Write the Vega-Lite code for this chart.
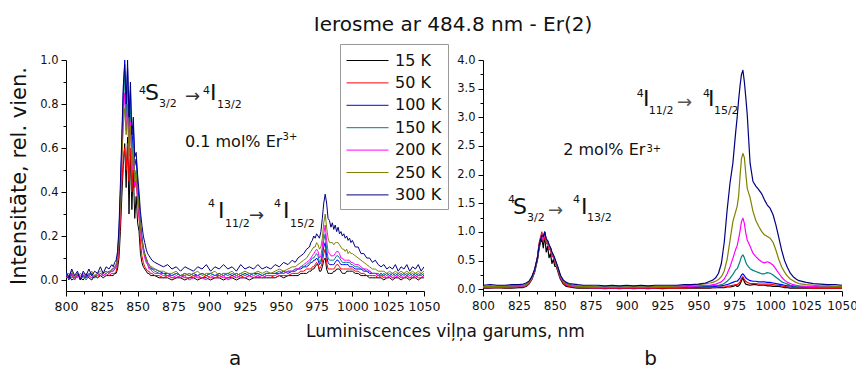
{
"$schema": "https://vega.github.io/schema/vega-lite/v6.json",
"padding": {"left": 8, "top": 14, "right": 5, "bottom": 5},
"config": {"font": "DejaVu Sans", "view": {"stroke": null}, "axis": {"grid": false, "domainColor": "#000", "tickColor": "#000", "labelColor": "#111", "titleColor": "#111", "labelFont": "DejaVu Sans", "titleFont": "DejaVu Sans", "titleFontWeight": "normal", "labelOverlap": false, "labelFlush": false, "labelBound": false}},
"title": {"text": "Ierosme ar 484.8 nm - Er(2)", "fontSize": 20, "fontWeight": "normal", "font": "DejaVu Sans", "color": "#111", "anchor": "middle", "offset": 9, "dx": 20},
"bounds": "flush",
"spacing": 59,
"resolve": {"scale": {"color": "independent", "strokeWidth": "independent", "x": "independent", "y": "independent"}, "legend": {"color": "independent", "strokeWidth": "independent"}},
"datasets": {
"left": [
{"x":800,"15 K":0.01,"50 K":0.02,"100 K":0.03,"150 K":0.02,"200 K":0.01,"250 K":0.03,"300 K":0.04},
{"x":802,"15 K":0.02,"50 K":0.01,"100 K":0.00,"150 K":0.03,"200 K":0.02,"250 K":0.02,"300 K":0.01},
{"x":804,"15 K":0.00,"50 K":0.02,"100 K":0.03,"150 K":0.01,"200 K":0.03,"250 K":0.04,"300 K":0.05},
{"x":806,"15 K":0.01,"50 K":0.00,"100 K":0.01,"150 K":0.02,"200 K":0.00,"250 K":0.01,"300 K":0.02},
{"x":808,"15 K":0.02,"50 K":0.02,"100 K":0.03,"150 K":0.01,"200 K":0.02,"250 K":0.03,"300 K":0.04},
{"x":810,"15 K":0.01,"50 K":0.01,"100 K":0.00,"150 K":0.03,"200 K":0.01,"250 K":0.02,"300 K":0.00},
{"x":812,"15 K":0.00,"50 K":0.02,"100 K":0.02,"150 K":0.02,"200 K":0.03,"250 K":0.01,"300 K":0.04},
{"x":814,"15 K":0.02,"50 K":0.01,"100 K":0.01,"150 K":0.00,"200 K":0.01,"250 K":0.03,"300 K":0.02},
{"x":816,"15 K":0.01,"50 K":0.02,"100 K":0.03,"150 K":0.02,"200 K":0.02,"250 K":0.02,"300 K":0.05},
{"x":818,"15 K":0.00,"50 K":0.01,"100 K":0.02,"150 K":0.03,"200 K":0.01,"250 K":0.04,"300 K":0.02},
{"x":820,"15 K":0.02,"50 K":0.02,"100 K":0.01,"150 K":0.01,"200 K":0.02,"250 K":0.02,"300 K":0.04},
{"x":822,"15 K":0.01,"50 K":0.01,"100 K":0.03,"150 K":0.02,"200 K":0.03,"250 K":0.03,"300 K":0.03},
{"x":824,"15 K":0.02,"50 K":0.03,"100 K":0.02,"150 K":0.03,"200 K":0.02,"250 K":0.04,"300 K":0.06},
{"x":826,"15 K":0.01,"50 K":0.02,"100 K":0.03,"150 K":0.02,"200 K":0.03,"250 K":0.03,"300 K":0.03},
{"x":828,"15 K":0.02,"50 K":0.03,"100 K":0.04,"150 K":0.03,"200 K":0.02,"250 K":0.04,"300 K":0.06},
{"x":830,"15 K":0.02,"50 K":0.02,"100 K":0.03,"150 K":0.04,"200 K":0.03,"250 K":0.03,"300 K":0.05},
{"x":832,"15 K":0.02,"50 K":0.03,"100 K":0.05,"150 K":0.04,"200 K":0.04,"250 K":0.05,"300 K":0.07},
{"x":833,"15 K":0.02,"50 K":0.03,"100 K":0.05,"150 K":0.04,"200 K":0.04,"250 K":0.05,"300 K":0.06},
{"x":834,"15 K":0.03,"50 K":0.03,"100 K":0.06,"150 K":0.05,"200 K":0.05,"250 K":0.06,"300 K":0.08},
{"x":835,"15 K":0.03,"50 K":0.04,"100 K":0.07,"150 K":0.06,"200 K":0.06,"250 K":0.07,"300 K":0.09},
{"x":836,"15 K":0.05,"50 K":0.07,"100 K":0.11,"150 K":0.10,"200 K":0.09,"250 K":0.10,"300 K":0.13},
{"x":837,"15 K":0.10,"50 K":0.14,"100 K":0.22,"150 K":0.20,"200 K":0.18,"250 K":0.19,"300 K":0.24},
{"x":838,"15 K":0.22,"50 K":0.28,"100 K":0.40,"150 K":0.37,"200 K":0.34,"250 K":0.35,"300 K":0.44},
{"x":839,"15 K":0.38,"50 K":0.44,"100 K":0.62,"150 K":0.58,"200 K":0.55,"250 K":0.55,"300 K":0.66},
{"x":840,"15 K":0.52,"50 K":0.55,"100 K":0.85,"150 K":0.80,"200 K":0.74,"250 K":0.70,"300 K":0.88},
{"x":841,"15 K":0.62,"50 K":0.60,"100 K":1.00,"150 K":0.93,"200 K":0.85,"250 K":0.78,"300 K":0.98},
{"x":842,"15 K":0.42,"50 K":0.50,"100 K":0.78,"150 K":0.74,"200 K":0.68,"250 K":0.66,"300 K":0.80},
{"x":843,"15 K":0.65,"50 K":0.62,"100 K":0.96,"150 K":0.88,"200 K":0.80,"250 K":0.76,"300 K":1.00},
{"x":844,"15 K":0.30,"50 K":0.45,"100 K":0.70,"150 K":0.62,"200 K":0.56,"250 K":0.56,"300 K":0.74},
{"x":845,"15 K":0.58,"50 K":0.60,"100 K":0.86,"150 K":0.78,"200 K":0.72,"250 K":0.70,"300 K":0.90},
{"x":846,"15 K":0.32,"50 K":0.40,"100 K":0.60,"150 K":0.55,"200 K":0.50,"250 K":0.52,"300 K":0.66},
{"x":847,"15 K":0.50,"50 K":0.55,"100 K":0.70,"150 K":0.63,"200 K":0.58,"250 K":0.60,"300 K":0.74},
{"x":848,"15 K":0.28,"50 K":0.42,"100 K":0.52,"150 K":0.46,"200 K":0.43,"250 K":0.45,"300 K":0.56},
{"x":849,"15 K":0.38,"50 K":0.45,"100 K":0.55,"150 K":0.50,"200 K":0.46,"250 K":0.48,"300 K":0.58},
{"x":850,"15 K":0.26,"50 K":0.36,"100 K":0.44,"150 K":0.40,"200 K":0.37,"250 K":0.39,"300 K":0.48},
{"x":851,"15 K":0.22,"50 K":0.28,"100 K":0.36,"150 K":0.33,"200 K":0.30,"250 K":0.32,"300 K":0.40},
{"x":852,"15 K":0.12,"50 K":0.17,"100 K":0.26,"150 K":0.24,"200 K":0.22,"250 K":0.24,"300 K":0.31},
{"x":853,"15 K":0.08,"50 K":0.11,"100 K":0.20,"150 K":0.18,"200 K":0.17,"250 K":0.18,"300 K":0.25},
{"x":854,"15 K":0.06,"50 K":0.08,"100 K":0.15,"150 K":0.14,"200 K":0.13,"250 K":0.14,"300 K":0.20},
{"x":855,"15 K":0.05,"50 K":0.06,"100 K":0.12,"150 K":0.11,"200 K":0.10,"250 K":0.11,"300 K":0.17},
{"x":856,"15 K":0.04,"50 K":0.05,"100 K":0.10,"150 K":0.09,"200 K":0.08,"250 K":0.10,"300 K":0.14},
{"x":857,"15 K":0.03,"50 K":0.04,"100 K":0.08,"150 K":0.07,"200 K":0.07,"250 K":0.08,"300 K":0.12},
{"x":858,"15 K":0.03,"50 K":0.04,"100 K":0.07,"150 K":0.06,"200 K":0.05,"250 K":0.07,"300 K":0.11},
{"x":859,"15 K":0.02,"50 K":0.03,"100 K":0.06,"150 K":0.05,"200 K":0.05,"250 K":0.06,"300 K":0.10},
{"x":860,"15 K":0.02,"50 K":0.03,"100 K":0.05,"150 K":0.05,"200 K":0.04,"250 K":0.06,"300 K":0.09},
{"x":862,"15 K":0.02,"50 K":0.02,"100 K":0.05,"150 K":0.04,"200 K":0.03,"250 K":0.05,"300 K":0.08},
{"x":865,"15 K":0.01,"50 K":0.02,"100 K":0.04,"150 K":0.03,"200 K":0.03,"250 K":0.04,"300 K":0.07},
{"x":868,"15 K":0.01,"50 K":0.01,"100 K":0.03,"150 K":0.03,"200 K":0.02,"250 K":0.04,"300 K":0.06},
{"x":871,"15 K":0.01,"50 K":0.02,"100 K":0.03,"150 K":0.02,"200 K":0.02,"250 K":0.03,"300 K":0.07},
{"x":874,"15 K":0.00,"50 K":0.01,"100 K":0.02,"150 K":0.02,"200 K":0.01,"250 K":0.03,"300 K":0.05},
{"x":877,"15 K":0.01,"50 K":0.01,"100 K":0.03,"150 K":0.03,"200 K":0.02,"250 K":0.04,"300 K":0.06},
{"x":880,"15 K":0.01,"50 K":0.02,"100 K":0.02,"150 K":0.02,"200 K":0.01,"250 K":0.02,"300 K":0.04},
{"x":883,"15 K":0.00,"50 K":0.01,"100 K":0.03,"150 K":0.02,"200 K":0.02,"250 K":0.03,"300 K":0.06},
{"x":886,"15 K":0.01,"50 K":0.01,"100 K":0.02,"150 K":0.03,"200 K":0.00,"250 K":0.02,"300 K":0.05},
{"x":889,"15 K":0.01,"50 K":0.02,"100 K":0.03,"150 K":0.02,"200 K":0.01,"250 K":0.03,"300 K":0.04},
{"x":892,"15 K":0.00,"50 K":0.01,"100 K":0.02,"150 K":0.02,"200 K":0.02,"250 K":0.04,"300 K":0.06},
{"x":895,"15 K":0.01,"50 K":0.01,"100 K":0.03,"150 K":0.03,"200 K":0.01,"250 K":0.02,"300 K":0.05},
{"x":898,"15 K":0.01,"50 K":0.02,"100 K":0.02,"150 K":0.02,"200 K":0.00,"250 K":0.03,"300 K":0.07},
{"x":901,"15 K":0.00,"50 K":0.01,"100 K":0.03,"150 K":0.03,"200 K":0.02,"250 K":0.03,"300 K":0.04},
{"x":904,"15 K":0.01,"50 K":0.01,"100 K":0.02,"150 K":0.02,"200 K":0.01,"250 K":0.04,"300 K":0.06},
{"x":907,"15 K":0.01,"50 K":0.02,"100 K":0.03,"150 K":0.02,"200 K":0.01,"250 K":0.02,"300 K":0.05},
{"x":910,"15 K":0.00,"50 K":0.01,"100 K":0.02,"150 K":0.03,"200 K":0.02,"250 K":0.03,"300 K":0.07},
{"x":913,"15 K":0.01,"50 K":0.01,"100 K":0.03,"150 K":0.02,"200 K":0.00,"250 K":0.03,"300 K":0.05},
{"x":916,"15 K":0.01,"50 K":0.02,"100 K":0.02,"150 K":0.03,"200 K":0.01,"250 K":0.04,"300 K":0.06},
{"x":919,"15 K":0.00,"50 K":0.01,"100 K":0.03,"150 K":0.02,"200 K":0.02,"250 K":0.02,"300 K":0.04},
{"x":922,"15 K":0.01,"50 K":0.02,"100 K":0.02,"150 K":0.03,"200 K":0.01,"250 K":0.03,"300 K":0.07},
{"x":925,"15 K":0.01,"50 K":0.01,"100 K":0.03,"150 K":0.02,"200 K":0.01,"250 K":0.04,"300 K":0.05},
{"x":928,"15 K":0.00,"50 K":0.02,"100 K":0.02,"150 K":0.03,"200 K":0.02,"250 K":0.03,"300 K":0.06},
{"x":931,"15 K":0.01,"50 K":0.01,"100 K":0.03,"150 K":0.02,"200 K":0.01,"250 K":0.03,"300 K":0.05},
{"x":934,"15 K":0.01,"50 K":0.02,"100 K":0.03,"150 K":0.03,"200 K":0.02,"250 K":0.04,"300 K":0.07},
{"x":937,"15 K":0.01,"50 K":0.01,"100 K":0.02,"150 K":0.02,"200 K":0.01,"250 K":0.03,"300 K":0.05},
{"x":940,"15 K":0.01,"50 K":0.02,"100 K":0.03,"150 K":0.03,"200 K":0.02,"250 K":0.04,"300 K":0.06},
{"x":943,"15 K":0.01,"50 K":0.02,"100 K":0.03,"150 K":0.03,"200 K":0.02,"250 K":0.03,"300 K":0.05},
{"x":946,"15 K":0.01,"50 K":0.01,"100 K":0.03,"150 K":0.03,"200 K":0.02,"250 K":0.04,"300 K":0.07},
{"x":949,"15 K":0.02,"50 K":0.02,"100 K":0.03,"150 K":0.04,"200 K":0.03,"250 K":0.05,"300 K":0.06},
{"x":952,"15 K":0.01,"50 K":0.02,"100 K":0.04,"150 K":0.03,"200 K":0.03,"250 K":0.04,"300 K":0.08},
{"x":955,"15 K":0.02,"50 K":0.02,"100 K":0.03,"150 K":0.04,"200 K":0.04,"250 K":0.05,"300 K":0.07},
{"x":958,"15 K":0.02,"50 K":0.03,"100 K":0.04,"150 K":0.04,"200 K":0.04,"250 K":0.06,"300 K":0.09},
{"x":960,"15 K":0.02,"50 K":0.03,"100 K":0.04,"150 K":0.05,"200 K":0.05,"250 K":0.06,"300 K":0.08},
{"x":962,"15 K":0.02,"50 K":0.03,"100 K":0.05,"150 K":0.05,"200 K":0.05,"250 K":0.07,"300 K":0.10},
{"x":964,"15 K":0.03,"50 K":0.04,"100 K":0.05,"150 K":0.06,"200 K":0.06,"250 K":0.08,"300 K":0.11},
{"x":966,"15 K":0.03,"50 K":0.04,"100 K":0.06,"150 K":0.06,"200 K":0.07,"250 K":0.09,"300 K":0.12},
{"x":968,"15 K":0.03,"50 K":0.05,"100 K":0.06,"150 K":0.07,"200 K":0.08,"250 K":0.10,"300 K":0.14},
{"x":970,"15 K":0.04,"50 K":0.05,"100 K":0.07,"150 K":0.08,"200 K":0.09,"250 K":0.12,"300 K":0.15},
{"x":971,"15 K":0.04,"50 K":0.05,"100 K":0.08,"150 K":0.09,"200 K":0.10,"250 K":0.13,"300 K":0.17},
{"x":972,"15 K":0.05,"50 K":0.06,"100 K":0.08,"150 K":0.10,"200 K":0.11,"250 K":0.14,"300 K":0.18},
{"x":973,"15 K":0.05,"50 K":0.06,"100 K":0.09,"150 K":0.10,"200 K":0.12,"250 K":0.15,"300 K":0.20},
{"x":974,"15 K":0.06,"50 K":0.07,"100 K":0.09,"150 K":0.11,"200 K":0.13,"250 K":0.15,"300 K":0.19},
{"x":975,"15 K":0.07,"50 K":0.08,"100 K":0.10,"150 K":0.12,"200 K":0.14,"250 K":0.17,"300 K":0.21},
{"x":976,"15 K":0.07,"50 K":0.07,"100 K":0.09,"150 K":0.11,"200 K":0.13,"250 K":0.16,"300 K":0.20},
{"x":977,"15 K":0.04,"50 K":0.05,"100 K":0.07,"150 K":0.08,"200 K":0.10,"250 K":0.14,"300 K":0.19},
{"x":978,"15 K":0.04,"50 K":0.06,"100 K":0.08,"150 K":0.09,"200 K":0.11,"250 K":0.15,"300 K":0.22},
{"x":979,"15 K":0.06,"50 K":0.08,"100 K":0.11,"150 K":0.12,"200 K":0.15,"250 K":0.19,"300 K":0.28},
{"x":980,"15 K":0.09,"50 K":0.12,"100 K":0.15,"150 K":0.18,"200 K":0.21,"250 K":0.26,"300 K":0.35},
{"x":981,"15 K":0.10,"50 K":0.14,"100 K":0.17,"150 K":0.21,"200 K":0.25,"250 K":0.30,"300 K":0.39},
{"x":982,"15 K":0.05,"50 K":0.08,"100 K":0.11,"150 K":0.14,"200 K":0.18,"250 K":0.24,"300 K":0.35},
{"x":983,"15 K":0.03,"50 K":0.05,"100 K":0.08,"150 K":0.10,"200 K":0.13,"250 K":0.19,"300 K":0.28},
{"x":984,"15 K":0.03,"50 K":0.05,"100 K":0.07,"150 K":0.09,"200 K":0.12,"250 K":0.17,"300 K":0.27},
{"x":985,"15 K":0.03,"50 K":0.05,"100 K":0.07,"150 K":0.09,"200 K":0.11,"250 K":0.17,"300 K":0.24},
{"x":986,"15 K":0.03,"50 K":0.05,"100 K":0.07,"150 K":0.09,"200 K":0.11,"250 K":0.17,"300 K":0.26},
{"x":987,"15 K":0.04,"50 K":0.05,"100 K":0.07,"150 K":0.09,"200 K":0.11,"250 K":0.16,"300 K":0.23},
{"x":988,"15 K":0.04,"50 K":0.06,"100 K":0.08,"150 K":0.10,"200 K":0.12,"250 K":0.17,"300 K":0.25},
{"x":989,"15 K":0.05,"50 K":0.07,"100 K":0.09,"150 K":0.11,"200 K":0.13,"250 K":0.17,"300 K":0.22},
{"x":990,"15 K":0.05,"50 K":0.07,"100 K":0.09,"150 K":0.11,"200 K":0.13,"250 K":0.17,"300 K":0.24},
{"x":991,"15 K":0.05,"50 K":0.06,"100 K":0.08,"150 K":0.10,"200 K":0.12,"250 K":0.16,"300 K":0.21},
{"x":992,"15 K":0.04,"50 K":0.05,"100 K":0.07,"150 K":0.09,"200 K":0.10,"250 K":0.15,"300 K":0.22},
{"x":993,"15 K":0.03,"50 K":0.05,"100 K":0.07,"150 K":0.08,"200 K":0.10,"250 K":0.14,"300 K":0.20},
{"x":994,"15 K":0.03,"50 K":0.05,"100 K":0.07,"150 K":0.08,"200 K":0.09,"250 K":0.14,"300 K":0.21},
{"x":995,"15 K":0.03,"50 K":0.05,"100 K":0.07,"150 K":0.08,"200 K":0.09,"250 K":0.13,"300 K":0.19},
{"x":996,"15 K":0.04,"50 K":0.05,"100 K":0.07,"150 K":0.08,"200 K":0.09,"250 K":0.14,"300 K":0.20},
{"x":997,"15 K":0.04,"50 K":0.05,"100 K":0.07,"150 K":0.08,"200 K":0.09,"250 K":0.12,"300 K":0.18},
{"x":998,"15 K":0.04,"50 K":0.05,"100 K":0.06,"150 K":0.08,"200 K":0.09,"250 K":0.13,"300 K":0.19},
{"x":999,"15 K":0.04,"50 K":0.05,"100 K":0.06,"150 K":0.07,"200 K":0.08,"250 K":0.12,"300 K":0.17},
{"x":1000,"15 K":0.04,"50 K":0.05,"100 K":0.06,"150 K":0.07,"200 K":0.08,"250 K":0.12,"300 K":0.18},
{"x":1002,"15 K":0.03,"50 K":0.04,"100 K":0.05,"150 K":0.06,"200 K":0.07,"250 K":0.11,"300 K":0.15},
{"x":1004,"15 K":0.03,"50 K":0.04,"100 K":0.05,"150 K":0.06,"200 K":0.07,"250 K":0.10,"300 K":0.15},
{"x":1006,"15 K":0.02,"50 K":0.03,"100 K":0.05,"150 K":0.05,"200 K":0.06,"250 K":0.09,"300 K":0.12},
{"x":1008,"15 K":0.02,"50 K":0.03,"100 K":0.04,"150 K":0.05,"200 K":0.05,"250 K":0.08,"300 K":0.12},
{"x":1010,"15 K":0.02,"50 K":0.02,"100 K":0.04,"150 K":0.04,"200 K":0.05,"250 K":0.07,"300 K":0.10},
{"x":1012,"15 K":0.01,"50 K":0.02,"100 K":0.03,"150 K":0.04,"200 K":0.04,"250 K":0.06,"300 K":0.10},
{"x":1014,"15 K":0.01,"50 K":0.02,"100 K":0.03,"150 K":0.03,"200 K":0.03,"250 K":0.05,"300 K":0.08},
{"x":1016,"15 K":0.01,"50 K":0.02,"100 K":0.03,"150 K":0.03,"200 K":0.03,"250 K":0.05,"300 K":0.09},
{"x":1018,"15 K":0.01,"50 K":0.01,"100 K":0.02,"150 K":0.03,"200 K":0.02,"250 K":0.04,"300 K":0.07},
{"x":1020,"15 K":0.01,"50 K":0.02,"100 K":0.03,"150 K":0.02,"200 K":0.02,"250 K":0.04,"300 K":0.06},
{"x":1022,"15 K":0.00,"50 K":0.01,"100 K":0.02,"150 K":0.03,"200 K":0.02,"250 K":0.04,"300 K":0.07},
{"x":1024,"15 K":0.01,"50 K":0.01,"100 K":0.03,"150 K":0.02,"200 K":0.01,"250 K":0.03,"300 K":0.05},
{"x":1026,"15 K":0.01,"50 K":0.02,"100 K":0.02,"150 K":0.03,"200 K":0.02,"250 K":0.04,"300 K":0.06},
{"x":1028,"15 K":0.00,"50 K":0.01,"100 K":0.03,"150 K":0.02,"200 K":0.01,"250 K":0.03,"300 K":0.05},
{"x":1030,"15 K":0.01,"50 K":0.01,"100 K":0.02,"150 K":0.03,"200 K":0.02,"250 K":0.04,"300 K":0.07},
{"x":1032,"15 K":0.01,"50 K":0.02,"100 K":0.03,"150 K":0.02,"200 K":0.01,"250 K":0.03,"300 K":0.04},
{"x":1034,"15 K":0.00,"50 K":0.01,"100 K":0.02,"150 K":0.03,"200 K":0.02,"250 K":0.04,"300 K":0.06},
{"x":1036,"15 K":0.01,"50 K":0.01,"100 K":0.03,"150 K":0.02,"200 K":0.01,"250 K":0.03,"300 K":0.05},
{"x":1038,"15 K":0.01,"50 K":0.02,"100 K":0.02,"150 K":0.03,"200 K":0.02,"250 K":0.04,"300 K":0.07},
{"x":1040,"15 K":0.00,"50 K":0.01,"100 K":0.03,"150 K":0.02,"200 K":0.01,"250 K":0.03,"300 K":0.04},
{"x":1042,"15 K":0.01,"50 K":0.01,"100 K":0.02,"150 K":0.03,"200 K":0.02,"250 K":0.04,"300 K":0.06},
{"x":1044,"15 K":0.01,"50 K":0.02,"100 K":0.03,"150 K":0.02,"200 K":0.01,"250 K":0.03,"300 K":0.05},
{"x":1046,"15 K":0.00,"50 K":0.01,"100 K":0.02,"150 K":0.03,"200 K":0.02,"250 K":0.04,"300 K":0.07},
{"x":1048,"15 K":0.01,"50 K":0.01,"100 K":0.03,"150 K":0.02,"200 K":0.02,"250 K":0.03,"300 K":0.04},
{"x":1050,"15 K":0.01,"50 K":0.02,"100 K":0.02,"150 K":0.03,"200 K":0.01,"250 K":0.04,"300 K":0.06}
],
"right": [
{"x":800,"15 K":0.02,"50 K":0.03,"100 K":0.05,"150 K":0.04,"200 K":0.04,"250 K":0.05,"300 K":0.07},
{"x":805,"15 K":0.02,"50 K":0.03,"100 K":0.04,"150 K":0.04,"200 K":0.03,"250 K":0.05,"300 K":0.08},
{"x":810,"15 K":0.03,"50 K":0.03,"100 K":0.05,"150 K":0.04,"200 K":0.04,"250 K":0.05,"300 K":0.07},
{"x":815,"15 K":0.02,"50 K":0.03,"100 K":0.05,"150 K":0.04,"200 K":0.04,"250 K":0.05,"300 K":0.07},
{"x":820,"15 K":0.02,"50 K":0.03,"100 K":0.05,"150 K":0.05,"200 K":0.04,"250 K":0.06,"300 K":0.08},
{"x":825,"15 K":0.03,"50 K":0.04,"100 K":0.05,"150 K":0.05,"200 K":0.05,"250 K":0.06,"300 K":0.08},
{"x":828,"15 K":0.03,"50 K":0.04,"100 K":0.06,"150 K":0.05,"200 K":0.05,"250 K":0.06,"300 K":0.09},
{"x":830,"15 K":0.05,"50 K":0.06,"100 K":0.08,"150 K":0.07,"200 K":0.07,"250 K":0.08,"300 K":0.11},
{"x":832,"15 K":0.09,"50 K":0.10,"100 K":0.12,"150 K":0.11,"200 K":0.11,"250 K":0.12,"300 K":0.14},
{"x":834,"15 K":0.17,"50 K":0.18,"100 K":0.20,"150 K":0.19,"200 K":0.19,"250 K":0.20,"300 K":0.22},
{"x":836,"15 K":0.30,"50 K":0.32,"100 K":0.34,"150 K":0.33,"200 K":0.33,"250 K":0.34,"300 K":0.35},
{"x":838,"15 K":0.52,"50 K":0.58,"100 K":0.55,"150 K":0.55,"200 K":0.56,"250 K":0.55,"300 K":0.56},
{"x":839,"15 K":0.70,"50 K":0.80,"100 K":0.74,"150 K":0.74,"200 K":0.76,"250 K":0.74,"300 K":0.75},
{"x":840,"15 K":0.82,"50 K":0.90,"100 K":0.86,"150 K":0.85,"200 K":0.87,"250 K":0.86,"300 K":0.86},
{"x":841,"15 K":0.88,"50 K":1.00,"100 K":0.95,"150 K":0.94,"200 K":0.96,"250 K":0.95,"300 K":0.94},
{"x":842,"15 K":0.72,"50 K":0.84,"100 K":0.90,"150 K":0.88,"200 K":0.86,"250 K":0.90,"300 K":0.92},
{"x":843,"15 K":0.95,"50 K":0.92,"100 K":1.00,"150 K":0.98,"200 K":0.97,"250 K":0.99,"300 K":1.00},
{"x":844,"15 K":0.65,"50 K":0.80,"100 K":0.86,"150 K":0.85,"200 K":0.84,"250 K":0.86,"300 K":0.88},
{"x":845,"15 K":0.75,"50 K":0.80,"100 K":0.84,"150 K":0.83,"200 K":0.82,"250 K":0.84,"300 K":0.85},
{"x":846,"15 K":0.55,"50 K":0.70,"100 K":0.76,"150 K":0.75,"200 K":0.74,"250 K":0.76,"300 K":0.78},
{"x":847,"15 K":0.62,"50 K":0.68,"100 K":0.72,"150 K":0.71,"200 K":0.70,"250 K":0.72,"300 K":0.73},
{"x":848,"15 K":0.45,"50 K":0.58,"100 K":0.63,"150 K":0.62,"200 K":0.61,"250 K":0.63,"300 K":0.65},
{"x":849,"15 K":0.52,"50 K":0.56,"100 K":0.59,"150 K":0.58,"200 K":0.57,"250 K":0.59,"300 K":0.60},
{"x":850,"15 K":0.40,"50 K":0.48,"100 K":0.52,"150 K":0.51,"200 K":0.50,"250 K":0.52,"300 K":0.54},
{"x":851,"15 K":0.40,"50 K":0.42,"100 K":0.45,"150 K":0.44,"200 K":0.44,"250 K":0.45,"300 K":0.47},
{"x":852,"15 K":0.32,"50 K":0.35,"100 K":0.38,"150 K":0.37,"200 K":0.37,"250 K":0.38,"300 K":0.40},
{"x":853,"15 K":0.24,"50 K":0.27,"100 K":0.30,"150 K":0.29,"200 K":0.29,"250 K":0.30,"300 K":0.32},
{"x":854,"15 K":0.17,"50 K":0.19,"100 K":0.22,"150 K":0.21,"200 K":0.21,"250 K":0.22,"300 K":0.24},
{"x":856,"15 K":0.09,"50 K":0.11,"100 K":0.14,"150 K":0.13,"200 K":0.13,"250 K":0.14,"300 K":0.16},
{"x":858,"15 K":0.05,"50 K":0.07,"100 K":0.10,"150 K":0.09,"200 K":0.09,"250 K":0.10,"300 K":0.12},
{"x":860,"15 K":0.04,"50 K":0.05,"100 K":0.08,"150 K":0.07,"200 K":0.07,"250 K":0.08,"300 K":0.10},
{"x":863,"15 K":0.03,"50 K":0.04,"100 K":0.06,"150 K":0.05,"200 K":0.05,"250 K":0.06,"300 K":0.09},
{"x":866,"15 K":0.02,"50 K":0.03,"100 K":0.05,"150 K":0.05,"200 K":0.04,"250 K":0.05,"300 K":0.08},
{"x":870,"15 K":0.02,"50 K":0.03,"100 K":0.05,"150 K":0.04,"200 K":0.04,"250 K":0.05,"300 K":0.07},
{"x":875,"15 K":0.02,"50 K":0.03,"100 K":0.04,"150 K":0.04,"200 K":0.03,"250 K":0.05,"300 K":0.07},
{"x":880,"15 K":0.02,"50 K":0.02,"100 K":0.04,"150 K":0.04,"200 K":0.03,"250 K":0.04,"300 K":0.07},
{"x":885,"15 K":0.01,"50 K":0.02,"100 K":0.04,"150 K":0.04,"200 K":0.03,"250 K":0.04,"300 K":0.06},
{"x":890,"15 K":0.02,"50 K":0.02,"100 K":0.04,"150 K":0.04,"200 K":0.03,"250 K":0.04,"300 K":0.07},
{"x":895,"15 K":0.01,"50 K":0.02,"100 K":0.04,"150 K":0.04,"200 K":0.03,"250 K":0.04,"300 K":0.06},
{"x":900,"15 K":0.02,"50 K":0.02,"100 K":0.04,"150 K":0.04,"200 K":0.03,"250 K":0.04,"300 K":0.07},
{"x":905,"15 K":0.01,"50 K":0.02,"100 K":0.04,"150 K":0.04,"200 K":0.03,"250 K":0.05,"300 K":0.06},
{"x":910,"15 K":0.02,"50 K":0.02,"100 K":0.04,"150 K":0.04,"200 K":0.03,"250 K":0.04,"300 K":0.07},
{"x":915,"15 K":0.01,"50 K":0.02,"100 K":0.04,"150 K":0.04,"200 K":0.03,"250 K":0.05,"300 K":0.06},
{"x":920,"15 K":0.02,"50 K":0.02,"100 K":0.04,"150 K":0.04,"200 K":0.03,"250 K":0.05,"300 K":0.07},
{"x":925,"15 K":0.01,"50 K":0.02,"100 K":0.04,"150 K":0.04,"200 K":0.04,"250 K":0.05,"300 K":0.07},
{"x":930,"15 K":0.02,"50 K":0.02,"100 K":0.04,"150 K":0.04,"200 K":0.04,"250 K":0.05,"300 K":0.07},
{"x":935,"15 K":0.02,"50 K":0.02,"100 K":0.04,"150 K":0.04,"200 K":0.04,"250 K":0.06,"300 K":0.07},
{"x":940,"15 K":0.02,"50 K":0.02,"100 K":0.04,"150 K":0.05,"200 K":0.05,"250 K":0.06,"300 K":0.08},
{"x":945,"15 K":0.02,"50 K":0.03,"100 K":0.04,"150 K":0.05,"200 K":0.05,"250 K":0.07,"300 K":0.08},
{"x":950,"15 K":0.02,"50 K":0.03,"100 K":0.04,"150 K":0.05,"200 K":0.06,"250 K":0.08,"300 K":0.09},
{"x":955,"15 K":0.02,"50 K":0.03,"100 K":0.05,"150 K":0.06,"200 K":0.07,"250 K":0.10,"300 K":0.11},
{"x":958,"15 K":0.02,"50 K":0.03,"100 K":0.05,"150 K":0.06,"200 K":0.07,"250 K":0.11,"300 K":0.14},
{"x":960,"15 K":0.03,"50 K":0.03,"100 K":0.05,"150 K":0.06,"200 K":0.08,"250 K":0.12,"300 K":0.16},
{"x":962,"15 K":0.03,"50 K":0.03,"100 K":0.05,"150 K":0.07,"200 K":0.09,"250 K":0.14,"300 K":0.20},
{"x":964,"15 K":0.03,"50 K":0.04,"100 K":0.06,"150 K":0.07,"200 K":0.11,"250 K":0.17,"300 K":0.28},
{"x":966,"15 K":0.03,"50 K":0.04,"100 K":0.06,"150 K":0.08,"200 K":0.13,"250 K":0.22,"300 K":0.45},
{"x":968,"15 K":0.03,"50 K":0.04,"100 K":0.07,"150 K":0.10,"200 K":0.18,"250 K":0.32,"300 K":0.82},
{"x":970,"15 K":0.04,"50 K":0.05,"100 K":0.08,"150 K":0.14,"200 K":0.27,"250 K":0.52,"300 K":1.38},
{"x":972,"15 K":0.04,"50 K":0.06,"100 K":0.10,"150 K":0.19,"200 K":0.39,"250 K":0.85,"300 K":1.85},
{"x":974,"15 K":0.05,"50 K":0.07,"100 K":0.12,"150 K":0.26,"200 K":0.54,"250 K":1.18,"300 K":2.20},
{"x":976,"15 K":0.07,"50 K":0.08,"100 K":0.14,"150 K":0.34,"200 K":0.70,"250 K":1.36,"300 K":2.75},
{"x":977,"15 K":0.05,"50 K":0.08,"100 K":0.14,"150 K":0.36,"200 K":0.76,"250 K":1.45,"300 K":3.00},
{"x":978,"15 K":0.06,"50 K":0.10,"100 K":0.17,"150 K":0.42,"200 K":0.88,"250 K":1.62,"300 K":3.30},
{"x":979,"15 K":0.09,"50 K":0.13,"100 K":0.20,"150 K":0.49,"200 K":1.02,"250 K":1.98,"300 K":3.55},
{"x":980,"15 K":0.15,"50 K":0.19,"100 K":0.25,"150 K":0.57,"200 K":1.18,"250 K":2.28,"300 K":3.75},
{"x":981,"15 K":0.20,"50 K":0.22,"100 K":0.27,"150 K":0.60,"200 K":1.24,"250 K":2.37,"300 K":3.82},
{"x":982,"15 K":0.13,"50 K":0.17,"100 K":0.24,"150 K":0.55,"200 K":1.15,"250 K":2.30,"300 K":3.62},
{"x":983,"15 K":0.09,"50 K":0.14,"100 K":0.20,"150 K":0.47,"200 K":0.98,"250 K":2.02,"300 K":3.35},
{"x":984,"15 K":0.08,"50 K":0.12,"100 K":0.18,"150 K":0.42,"200 K":0.86,"250 K":1.76,"300 K":3.05},
{"x":986,"15 K":0.07,"50 K":0.10,"100 K":0.15,"150 K":0.36,"200 K":0.75,"250 K":1.60,"300 K":2.20},
{"x":988,"15 K":0.08,"50 K":0.10,"100 K":0.14,"150 K":0.33,"200 K":0.63,"250 K":1.36,"300 K":1.88},
{"x":990,"15 K":0.08,"50 K":0.10,"100 K":0.14,"150 K":0.31,"200 K":0.57,"250 K":1.20,"300 K":1.80},
{"x":992,"15 K":0.07,"50 K":0.09,"100 K":0.13,"150 K":0.29,"200 K":0.52,"250 K":1.10,"300 K":1.74},
{"x":994,"15 K":0.07,"50 K":0.09,"100 K":0.13,"150 K":0.27,"200 K":0.48,"250 K":1.01,"300 K":1.67},
{"x":996,"15 K":0.07,"50 K":0.09,"100 K":0.13,"150 K":0.27,"200 K":0.46,"250 K":0.95,"300 K":1.56},
{"x":998,"15 K":0.06,"50 K":0.09,"100 K":0.12,"150 K":0.29,"200 K":0.48,"250 K":0.92,"300 K":1.47},
{"x":1000,"15 K":0.06,"50 K":0.09,"100 K":0.12,"150 K":0.28,"200 K":0.46,"250 K":0.89,"300 K":1.41},
{"x":1002,"15 K":0.05,"50 K":0.08,"100 K":0.11,"150 K":0.25,"200 K":0.42,"250 K":0.82,"300 K":1.30},
{"x":1004,"15 K":0.05,"50 K":0.07,"100 K":0.10,"150 K":0.21,"200 K":0.35,"250 K":0.68,"300 K":1.12},
{"x":1006,"15 K":0.05,"50 K":0.07,"100 K":0.09,"150 K":0.17,"200 K":0.28,"250 K":0.52,"300 K":0.90},
{"x":1008,"15 K":0.04,"50 K":0.06,"100 K":0.08,"150 K":0.13,"200 K":0.21,"250 K":0.39,"300 K":0.68},
{"x":1010,"15 K":0.03,"50 K":0.05,"100 K":0.07,"150 K":0.11,"200 K":0.16,"250 K":0.30,"300 K":0.50},
{"x":1012,"15 K":0.03,"50 K":0.04,"100 K":0.06,"150 K":0.09,"200 K":0.12,"250 K":0.23,"300 K":0.38},
{"x":1014,"15 K":0.02,"50 K":0.04,"100 K":0.06,"150 K":0.07,"200 K":0.10,"250 K":0.18,"300 K":0.28},
{"x":1016,"15 K":0.02,"50 K":0.03,"100 K":0.05,"150 K":0.06,"200 K":0.08,"250 K":0.15,"300 K":0.22},
{"x":1018,"15 K":0.02,"50 K":0.03,"100 K":0.05,"150 K":0.05,"200 K":0.07,"250 K":0.12,"300 K":0.18},
{"x":1020,"15 K":0.02,"50 K":0.03,"100 K":0.05,"150 K":0.05,"200 K":0.06,"250 K":0.10,"300 K":0.15},
{"x":1025,"15 K":0.02,"50 K":0.03,"100 K":0.04,"150 K":0.04,"200 K":0.05,"250 K":0.08,"300 K":0.12},
{"x":1030,"15 K":0.02,"50 K":0.02,"100 K":0.04,"150 K":0.04,"200 K":0.05,"250 K":0.07,"300 K":0.10},
{"x":1035,"15 K":0.02,"50 K":0.02,"100 K":0.04,"150 K":0.04,"200 K":0.04,"250 K":0.06,"300 K":0.09},
{"x":1040,"15 K":0.02,"50 K":0.02,"100 K":0.04,"150 K":0.04,"200 K":0.04,"250 K":0.06,"300 K":0.08},
{"x":1045,"15 K":0.02,"50 K":0.02,"100 K":0.04,"150 K":0.04,"200 K":0.04,"250 K":0.05,"300 K":0.08},
{"x":1050,"15 K":0.02,"50 K":0.02,"100 K":0.04,"150 K":0.04,"200 K":0.04,"250 K":0.05,"300 K":0.07}
],
"annLeft": [
{"k":"big","x":855.2,"y":0.818,"t":"S"},
{"k":"big","x":900.6,"y":0.818,"t":"I"},
{"k":"big","x":906.1,"y":0.282,"t":"I"},
{"k":"big","x":951.5,"y":0.282,"t":"I"},
{"k":"arrow","x":883.1,"y":0.809,"t":"→"},
{"k":"arrow","x":927.8,"y":0.268,"t":"→"},
{"k":"small","x":851.0,"y":0.845,"t":"4"},
{"k":"small","x":864.9,"y":0.786,"t":"3/2"},
{"k":"small","x":895.7,"y":0.845,"t":"4"},
{"k":"small","x":905.4,"y":0.782,"t":"13/2"},
{"k":"small","x":899.2,"y":0.332,"t":"4"},
{"k":"small","x":911.0,"y":0.241,"t":"11/2"},
{"k":"small","x":945.3,"y":0.332,"t":"4"},
{"k":"small","x":956.4,"y":0.241,"t":"15/2"},
{"k":"sup","x":951.2,"y":0.636,"t":"3+"},
{"k":"mid","x":883.1,"y":0.605,"t":"0.1 mol% Er"}
],
"annRight": [
{"k":"big","x":820.9,"y":1.322,"t":"S"},
{"k":"big","x":868.2,"y":1.322,"t":"I"},
{"k":"big","x":911.4,"y":3.205,"t":"I"},
{"k":"big","x":956.7,"y":3.205,"t":"I"},
{"k":"arrow","x":845.3,"y":1.287,"t":"→"},
{"k":"arrow","x":935.1,"y":3.165,"t":"→"},
{"k":"small","x":817.4,"y":1.513,"t":"4"},
{"k":"small","x":830.6,"y":1.183,"t":"3/2"},
{"k":"small","x":862.7,"y":1.513,"t":"4"},
{"k":"small","x":872.4,"y":1.183,"t":"13/2"},
{"k":"small","x":907.0,"y":3.357,"t":"4"},
{"k":"small","x":915.5,"y":3.061,"t":"11/2"},
{"k":"small","x":953.2,"y":3.357,"t":"4"},
{"k":"small","x":960.8,"y":3.061,"t":"15/2"},
{"k":"sup","x":913.8,"y":2.40,"t":"3+"},
{"k":"mid","x":855.9,"y":2.336,"t":"2 mol% Er"}
]
},
"hconcat": [
{
"width": 358, "height": 231,
"title": {"text": "a", "orient": "bottom", "fontSize": 20, "fontWeight": "normal", "color": "#111", "offset": 10, "dx": -10},
"resolve": {"axis": {"x": "independent", "y": "independent"}},
"layer": [
{
"data": {"name": "left"},
"transform": [{"fold": ["15 K","50 K","100 K","150 K","200 K","250 K","300 K"], "as": ["T","y"]}],
"mark": {"type": "line", "clip": true, "strokeJoin": "round"},
"encoding": {
"x": {"field": "x", "type": "quantitative", "scale": {"domain": [800, 1050], "nice": false, "zero": false},
"axis": {"orient": "bottom", "values": [800,825,850,875,900,925,950,975,1000,1025,1050], "format": "d", "labelOverlap": false, "labelFlush": false,
"tickSize": 5, "labelFontSize": 12.5, "labelPadding": 4,
"title": "Luminiscences viļņa garums, nm", "titleFontSize": 17, "titleX": 379, "titleY": 45, "titleAlign": "center", "titleBaseline": "alphabetic"}},
"y": {"field": "y", "type": "quantitative", "scale": {"domain": [-0.05, 1.0], "nice": false, "zero": false},
"axis": {"orient": "left", "values": [0,0.2,0.4,0.6,0.8,1.0], "format": ".1f", "labelOverlap": false,
"tickSize": 5, "labelFontSize": 11.5, "labelPadding": 3,
"title": "Intensitāte, rel. vien.", "titleFontSize": 21, "titlePadding": 10}},
"color": {"field": "T", "type": "nominal", "sort": null,
"scale": {"domain": ["15 K","50 K","100 K","150 K","200 K","250 K","300 K"], "range": ["#000000","#FF0000","#0000FF","#008080","#FF00FF","#808000","#000080"]},
"legend": {"title": null, "orient": "none", "legendX": 274, "legendY": -16, "symbolType": "M-1,0H3.2", "symbolSize": 400, "labelFontSize": 16, "labelFont": "DejaVu Sans", "labelColor": "#111", "labelOffset": 28, "rowPadding": 3.4, "padding": 6, "strokeColor": "#999", "fillColor": "white"}},
"strokeWidth": {"field": "T", "type": "nominal", "sort": null,
"scale": {"domain": ["15 K","50 K","100 K","150 K","200 K","250 K","300 K"], "range": [1, 1, 1.6, 1.2, 1.2, 1.6, 1.8]},
"legend": {"title": null, "orient": "none", "legendX": 274, "legendY": -16, "symbolType": "M-1,0H3.2", "symbolSize": 400, "labelFontSize": 16, "labelFont": "DejaVu Sans", "labelColor": "#111", "labelOffset": 28, "rowPadding": 3.4, "padding": 6, "strokeColor": "#999", "fillColor": "white"}}
}
},
{
"data": {"name": "annLeft"}, "transform": [{"filter": "datum.k == 'big'"}],
"mark": {"type": "text", "align": "left", "baseline": "alphabetic", "font": "DejaVu Sans", "fontSize": 22, "color": "#111"},
"encoding": {
"x": {"field": "x", "type": "quantitative", "axis": {"orient": "bottom", "values": [812.5,837.5,862.5,887.5,912.5,937.5,962.5,987.5,1012.5,1037.5], "labels": false, "domain": false, "tickSize": 3, "title": null}},
"y": {"field": "y", "type": "quantitative", "axis": {"orient": "left", "values": [0.1,0.3,0.5,0.7,0.9], "labels": false, "domain": false, "tickSize": 3, "title": null}},
"text": {"field": "t"}}
},
{
"data": {"name": "annLeft"}, "transform": [{"filter": "datum.k == 'arrow'"}],
"mark": {"type": "text", "align": "left", "baseline": "alphabetic", "font": "DejaVu Sans", "fontSize": 18, "color": "#333"},
"encoding": {"x": {"field": "x", "type": "quantitative", "axis": null}, "y": {"field": "y", "type": "quantitative", "axis": null}, "text": {"field": "t"}}
},
{
"data": {"name": "annLeft"}, "transform": [{"filter": "datum.k == 'small'"}],
"mark": {"type": "text", "align": "left", "baseline": "alphabetic", "font": "DejaVu Sans", "fontSize": 11, "color": "#111"},
"encoding": {"x": {"field": "x", "type": "quantitative", "axis": null}, "y": {"field": "y", "type": "quantitative", "axis": null}, "text": {"field": "t"}}
},
{
"data": {"name": "annLeft"}, "transform": [{"filter": "datum.k == 'sup'"}],
"mark": {"type": "text", "align": "left", "baseline": "alphabetic", "font": "DejaVu Sans", "fontSize": 10, "color": "#111"},
"encoding": {"x": {"field": "x", "type": "quantitative", "axis": null}, "y": {"field": "y", "type": "quantitative", "axis": null}, "text": {"field": "t"}}
},
{
"data": {"name": "annLeft"}, "transform": [{"filter": "datum.k == 'mid'"}],
"mark": {"type": "text", "align": "left", "baseline": "alphabetic", "font": "DejaVu Sans", "fontSize": 16, "color": "#111"},
"encoding": {"x": {"field": "x", "type": "quantitative", "axis": null}, "y": {"field": "y", "type": "quantitative", "axis": null}, "text": {"field": "t"}}
}
]
},
{
"width": 359, "height": 231,
"title": {"text": "b", "orient": "bottom", "fontSize": 20, "fontWeight": "normal", "color": "#111", "offset": 38, "dx": -12},
"resolve": {"axis": {"x": "independent", "y": "independent"}},
"layer": [
{
"data": {"name": "right"},
"transform": [{"fold": ["15 K","50 K","100 K","150 K","200 K","250 K","300 K"], "as": ["T","y"]}],
"mark": {"type": "line", "clip": true, "strokeJoin": "round"},
"encoding": {
"x": {"field": "x", "type": "quantitative", "scale": {"domain": [800, 1050], "nice": false, "zero": false},
"axis": {"orient": "bottom", "values": [800,825,850,875,900,925,950,975,1000,1025,1050], "format": "d", "labelOverlap": false, "labelFlush": false,
"tickSize": 5, "labelFontSize": 12, "labelPadding": 4, "title": null}},
"y": {"field": "y", "type": "quantitative", "scale": {"domain": [-0.03, 4.0], "nice": false, "zero": false},
"axis": {"orient": "left", "values": [0,0.5,1,1.5,2,2.5,3,3.5,4], "format": ".1f", "labelOverlap": false,
"tickSize": 5, "labelFontSize": 11.5, "labelPadding": 3, "title": null}},
"color": {"field": "T", "type": "nominal", "sort": null,
"scale": {"domain": ["15 K","50 K","100 K","150 K","200 K","250 K","300 K"], "range": ["#000000","#FF0000","#0000FF","#008080","#FF00FF","#808000","#000080"]},
"legend": null},
"strokeWidth": {"field": "T", "type": "nominal", "sort": null,
"scale": {"domain": ["15 K","50 K","100 K","150 K","200 K","250 K","300 K"], "range": [1.2, 1.2, 1.5, 1.4, 1.4, 1.5, 1.6]},
"legend": null}
}
},
{
"data": {"name": "annRight"}, "transform": [{"filter": "datum.k == 'big'"}],
"mark": {"type": "text", "align": "left", "baseline": "alphabetic", "font": "DejaVu Sans", "fontSize": 22, "color": "#111"},
"encoding": {
"x": {"field": "x", "type": "quantitative", "axis": {"orient": "bottom", "values": [812.5,837.5,862.5,887.5,912.5,937.5,962.5,987.5,1012.5,1037.5], "labels": false, "domain": false, "tickSize": 3, "title": null}},
"y": {"field": "y", "type": "quantitative", "axis": {"orient": "left", "values": [0.25,0.75,1.25,1.75,2.25,2.75,3.25,3.75], "labels": false, "domain": false, "tickSize": 3, "title": null}},
"text": {"field": "t"}}
},
{
"data": {"name": "annRight"}, "transform": [{"filter": "datum.k == 'arrow'"}],
"mark": {"type": "text", "align": "left", "baseline": "alphabetic", "font": "DejaVu Sans", "fontSize": 18, "color": "#555"},
"encoding": {"x": {"field": "x", "type": "quantitative", "axis": null}, "y": {"field": "y", "type": "quantitative", "axis": null}, "text": {"field": "t"}}
},
{
"data": {"name": "annRight"}, "transform": [{"filter": "datum.k == 'small'"}],
"mark": {"type": "text", "align": "left", "baseline": "alphabetic", "font": "DejaVu Sans", "fontSize": 11, "color": "#111"},
"encoding": {"x": {"field": "x", "type": "quantitative", "axis": null}, "y": {"field": "y", "type": "quantitative", "axis": null}, "text": {"field": "t"}}
},
{
"data": {"name": "annRight"}, "transform": [{"filter": "datum.k == 'sup'"}],
"mark": {"type": "text", "align": "left", "baseline": "alphabetic", "font": "DejaVu Sans", "fontSize": 10, "color": "#111"},
"encoding": {"x": {"field": "x", "type": "quantitative", "axis": null}, "y": {"field": "y", "type": "quantitative", "axis": null}, "text": {"field": "t"}}
},
{
"data": {"name": "annRight"}, "transform": [{"filter": "datum.k == 'mid'"}],
"mark": {"type": "text", "align": "left", "baseline": "alphabetic", "font": "DejaVu Sans", "fontSize": 16, "color": "#111"},
"encoding": {"x": {"field": "x", "type": "quantitative", "axis": null}, "y": {"field": "y", "type": "quantitative", "axis": null}, "text": {"field": "t"}}
}
]
}
]
}
